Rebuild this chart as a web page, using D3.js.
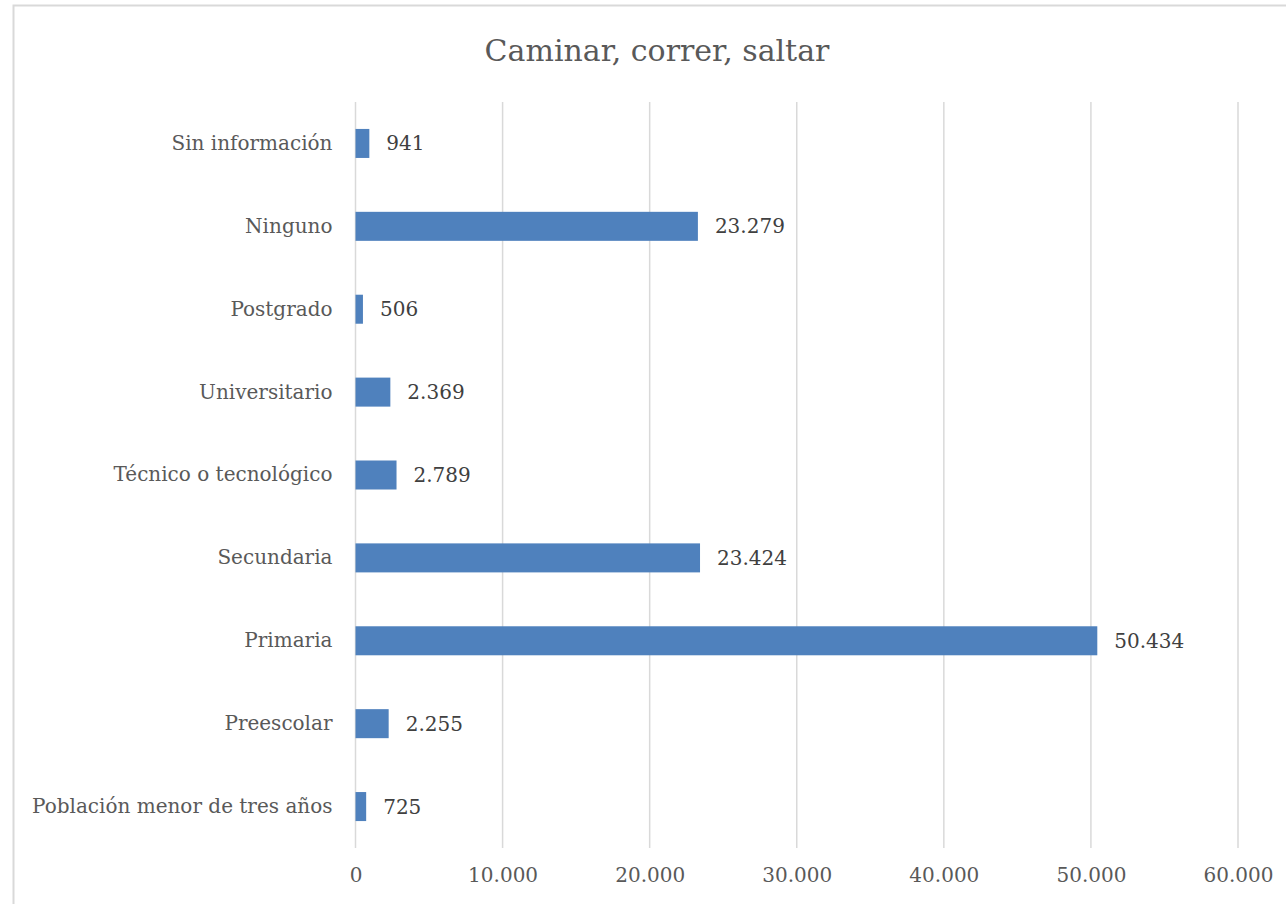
<!DOCTYPE html>
<html>
<head>
<meta charset="utf-8">
<script src="https://cdn.jsdelivr.net/npm/d3@7"></script>
<style>
  body { margin: 0; background: #fff; }
  text { font-family: "DejaVu Serif", serif; }
</style>
</head>
<body>
<svg id="canvas" width="1286" height="904"></svg>
<script>
// data (top to bottom as shown)
var categories = ['Sin información', 'Ninguno', 'Postgrado', 'Universitario',
  'Técnico o tecnológico', 'Secundaria', 'Primaria', 'Preescolar', 'Población menor de tres años'];
var values = [941, 23279, 506, 2369, 2789, 23424, 50434, 2255, 725];
var xTicks = [0, 10000, 20000, 30000, 40000, 50000, 60000];

var canvas = d3.select('#canvas');
var width = +canvas.attr('width');
var height = +canvas.attr('height');

// chart frame (runs past the bottom/right edges of the picture)
canvas.append('rect')
  .attr('x', 13.5).attr('y', 5.5)
  .attr('width', 1300).attr('height', 920)
  .style('fill', 'white')
  .style('stroke', '#d9d9d9')
  .style('stroke-width', 2);

var margin = { left: 355.5, right: 48, top: 102, bottom: 56 };

var fmt = function(v) { return d3.format(',')(v).replace(/,/g, '.'); };

var xScale = d3.scaleLinear()
  .domain([0, 60000])
  .range([margin.left, 1238]);

var yScale = d3.scaleBand()
  .domain(categories)
  .range([margin.top, height - margin.bottom])
  .paddingInner(0.65)
  .paddingOuter(0.325);

// title
canvas.append('text')
  .attr('x', 657).attr('y', 61)
  .attr('text-anchor', 'middle')
  .style('font-size', '30px')
  .style('fill', '#595959')
  .text('Caminar, correr, saltar');

// gridlines
canvas.selectAll('.grid')
  .data(xTicks)
  .enter().append('line')
  .attr('x1', function(d) { return xScale(d); })
  .attr('x2', function(d) { return xScale(d); })
  .attr('y1', margin.top)
  .attr('y2', height - margin.bottom)
  .style('stroke', '#d9d9d9')
  .style('stroke-width', 1.5);

// bars
canvas.selectAll('.bar')
  .data(values)
  .enter().append('rect')
  .attr('x', xScale(0))
  .attr('y', function(d, i) { return yScale(categories[i]); })
  .attr('width', function(d) { return xScale(d) - xScale(0); })
  .attr('height', yScale.bandwidth())
  .style('fill', '#4f81bd');

// data labels
canvas.selectAll('.lbl')
  .data(values)
  .enter().append('text')
  .attr('x', function(d) { return xScale(d) + 17; })
  .attr('y', function(d, i) { return yScale(categories[i]) + yScale.bandwidth() / 2; })
  .attr('dy', '0.35em')
  .style('font-size', '20px')
  .style('fill', '#404040')
  .text(function(d) { return fmt(d); });

// x axis
var xAxis = d3.axisBottom(xScale)
  .tickValues(xTicks)
  .tickSize(0)
  .tickPadding(20)
  .tickFormat(fmt);

var gx = canvas.append('g')
  .attr('transform', 'translate(0,' + (height - margin.bottom) + ')')
  .call(xAxis);
gx.select('.domain').remove();
gx.selectAll('text')
  .style('font-family', '"DejaVu Serif", serif')
  .style('font-size', '20px')
  .style('fill', '#595959');

// y axis
var yAxis = d3.axisLeft(yScale)
  .tickSize(0)
  .tickPadding(23);

var gy = canvas.append('g')
  .attr('transform', 'translate(' + margin.left + ',0)')
  .call(yAxis);
gy.select('.domain').remove();
gy.selectAll('text')
  .style('font-family', '"DejaVu Serif", serif')
  .style('font-size', '20px')
  .style('fill', '#595959');
</script>
</body>
</html>
